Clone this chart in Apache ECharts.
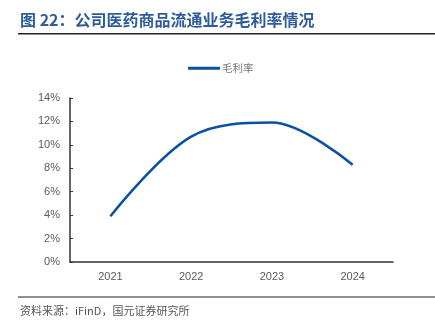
<!DOCTYPE html>
<html><head><meta charset="utf-8">
<script src="https://cdn.jsdelivr.net/npm/echarts@6/dist/echarts.min.js"></script>
<style>html,body{margin:0;padding:0;background:#fff}#c{width:435px;height:328px}</style>
</head><body><div id="c"></div>
<script>
const categories = ['2021', '2022', '2023', '2024'];
const grossMargin = [3.9, 10.7, 11.9, 8.3];
const yTicks = [0, 2, 4, 6, 8, 10, 12, 14];
const seriesName = '毛利率';
const titleText = '图 22：公司医药商品流通业务毛利率情况';
const sourceText = '资料来源：iFinD，国元证券研究所';

const chart = echarts.init(document.getElementById('c'), null, {renderer: 'canvas'});
const cjk = '"Noto Sans CJK SC", sans-serif';
const latin = '"Liberation Sans", Arial, sans-serif';
chart.setOption({
  animation: false,
  backgroundColor: '#fff',
  graphic: [
    {type: 'text', left: 20, top: 12, style: {text: titleText, font: 'bold 16px ' + cjk, fill: '#2e5c9a'}},
    {type: 'rect', shape: {x: 18, y: 33, width: 417, height: 1.5}, style: {fill: '#222'}},
    {type: 'rect', shape: {x: 18, y: 296.5, width: 417, height: 1}, style: {fill: '#222'}},
    {type: 'text', left: 20, top: 305, style: {text: sourceText, font: '11px ' + cjk, fill: '#555'}}
  ],
  legend: {
    data: [seriesName], top: 63, left: 188, padding: 0,
    itemWidth: 32, itemHeight: 3, itemGap: 4,
    icon: 'rect',
    textStyle: {fontFamily: cjk, fontSize: 10.5, color: '#777', padding: [0,0,0,-3]}
  },
  grid: {left: 70, right: 42, top: 98, bottom: 66},
  xAxis: {
    type: 'category', data: categories, boundaryGap: true,
    axisLine: {lineStyle: {color: '#333', width: 1.5}},
    axisTick: {inside: true, length: 3, lineStyle: {color: '#333'}},
    axisLabel: {color: '#595959', fontFamily: latin, fontSize: 11, margin: 9}
  },
  yAxis: {
    type: 'value', min: 0, max: 14, interval: 2,
    axisLine: {show: true, lineStyle: {color: '#333', width: 1.5}},
    axisTick: {show: true, inside: true, length: 3, lineStyle: {color: '#333'}},
    splitLine: {show: false},
    axisLabel: {color: '#595959', fontFamily: latin, fontSize: 11, margin: 10,
      formatter: v => yTicks.includes(v) ? v + '%' : ''}
  },
  series: [{
    name: seriesName, type: 'line', data: grossMargin, smooth: 0.35,
    showSymbol: false, symbol: 'none',
    lineStyle: {color: '#0c50a2', width: 2.5},
    itemStyle: {color: '#0c50a2'}
  }]
});
</script></body></html>
